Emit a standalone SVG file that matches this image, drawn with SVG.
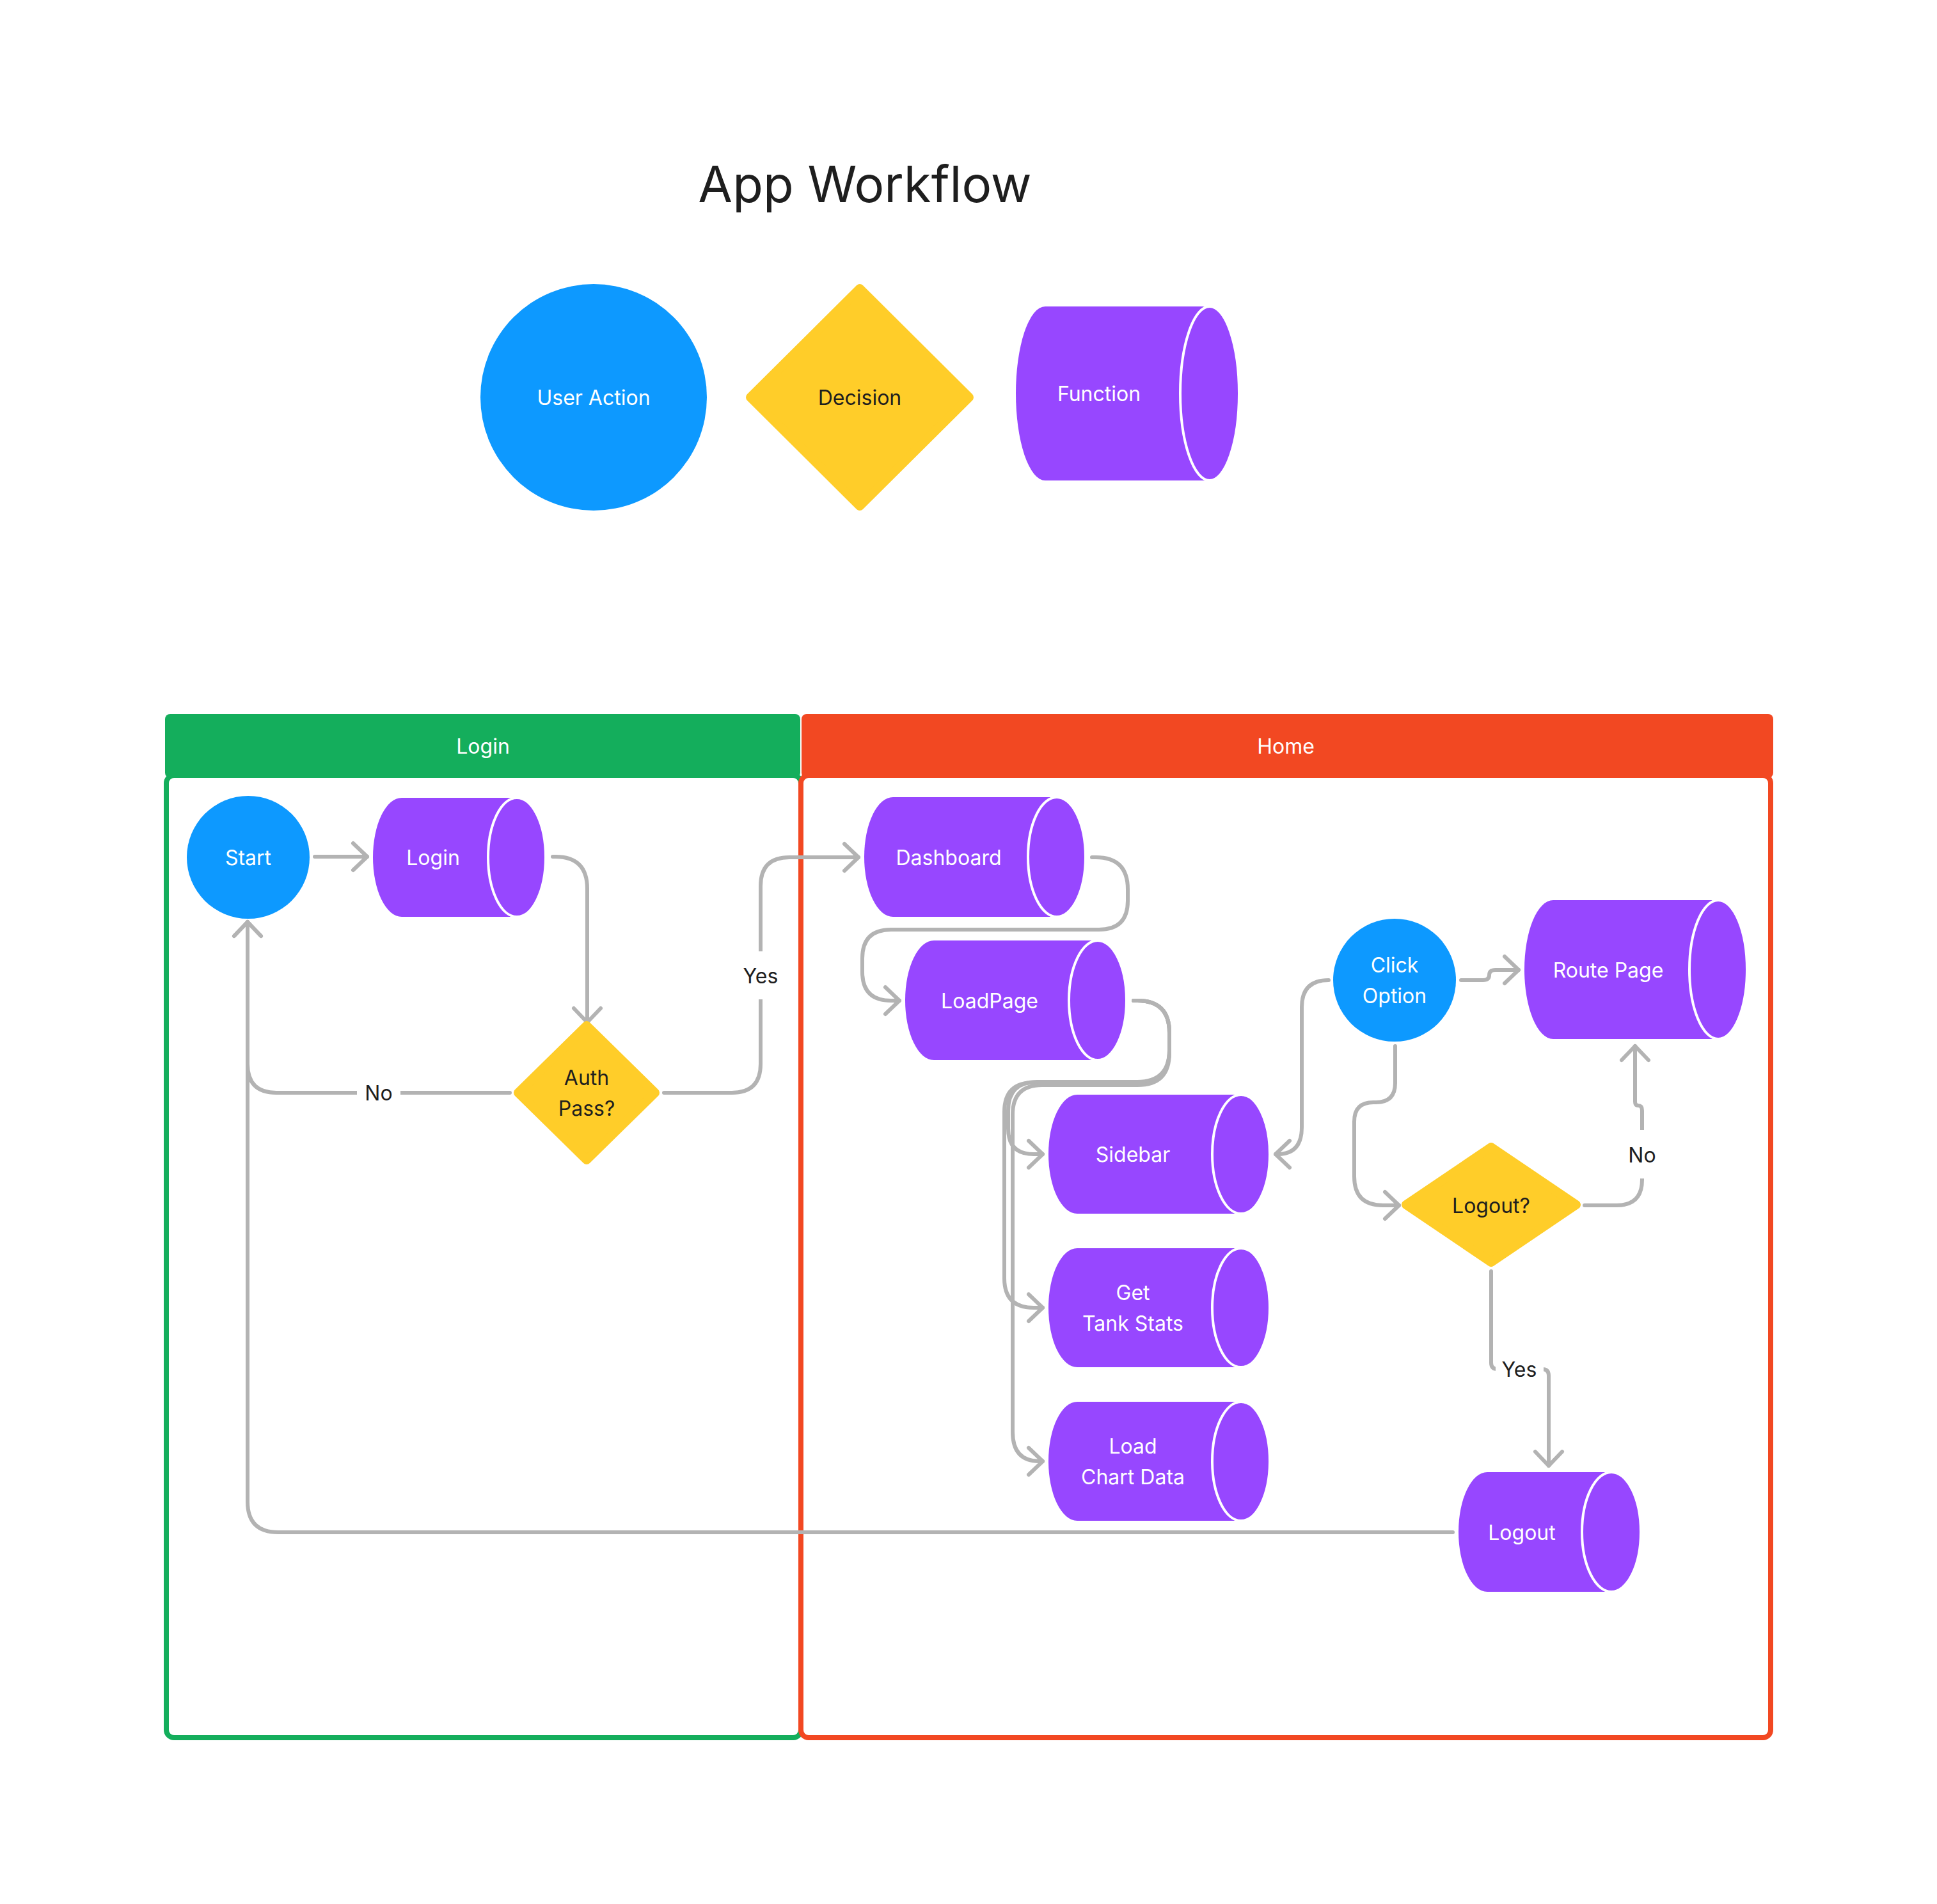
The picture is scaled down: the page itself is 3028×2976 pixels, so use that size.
<svg xmlns="http://www.w3.org/2000/svg" width="3028" height="2976" viewBox="0 0 3028 2976">
  <defs>
    <style>
      .t { font-family: Inter, "Noto Sans", "Liberation Sans", sans-serif; font-size: 32px; text-anchor: middle; dominant-baseline: central; }
      .w { fill: #ffffff; }
      .d { fill: #1e1e1e; }
      .title { font-family: Inter, "Noto Sans", "Liberation Sans", sans-serif; font-size: 78px; text-anchor: middle; fill: #1e1e1e; }
      .act { fill: #0d99ff; }
      .fn { fill: #9747ff; }
      .cap { fill: #9747ff; stroke: #ffffff; stroke-width: 4; }
      .dec { fill: #ffcd29; stroke: #ffcd29; stroke-width: 14; stroke-linejoin: round; }
      .conn { fill: none; stroke: #b3b3b3; stroke-width: 6; stroke-linecap: round; stroke-linejoin: round; }
      .lbl-bg { fill: #ffffff; }
    </style>
    <marker id="arrow" markerUnits="userSpaceOnUse" viewBox="0 0 40 50" markerWidth="40" markerHeight="50" refX="30" refY="25" orient="auto" overflow="visible">
      <path d="M8,4 L30,25 L8,46" fill="none" stroke="#b3b3b3" stroke-width="6" stroke-linecap="round" stroke-linejoin="round"/>
    </marker>
  </defs>

  <rect x="0" y="0" width="3028" height="2976" fill="#ffffff"/>

  <!-- Title -->
  <text class="title" x="1352" y="316">App Workflow</text>

  <!-- Legend -->
  <g id="legend-user-action">
    <circle class="act" cx="928" cy="621" r="177"/>
    <text class="t w" x="928" y="621">User Action</text>
  </g>
  <g id="legend-decision">
    <polygon class="dec" points="1344,451 1515,621 1344,791 1173,621"/>
    <text class="t d" x="1344" y="621">Decision</text>
  </g>
  <g id="legend-function">
    <path class="fn" d="M1634,479 H1891 V751 H1634 A46,136 0 0 1 1634,479 Z"/>
    <ellipse class="cap" cx="1891" cy="615" rx="46" ry="136"/>
    <text class="t w" x="1718" y="615">Function</text>
  </g>

  <!-- Swimlanes -->
  <g id="lane-login">
    <rect x="260" y="1212" width="992" height="1504" rx="12" fill="#ffffff" stroke="#14ae5c" stroke-width="8"/>
    <rect x="258" y="1116" width="993" height="100" rx="8" fill="#14ae5c"/>
    <text class="t w" x="755" y="1166">Login</text>
  </g>
  <g id="lane-home">
    <rect x="1252" y="1212" width="1516" height="1504" rx="12" fill="#ffffff" stroke="#f24822" stroke-width="8"/>
    <rect x="1253" y="1116" width="1519" height="100" rx="8" fill="#f24822"/>
    <text class="t w" x="2010" y="1166">Home</text>
  </g>

  <!-- Connectors -->
  <g id="connectors">
    <path class="conn" marker-end="url(#arrow)" d="M492,1339 H574"/>
    <path class="conn" marker-end="url(#arrow)" d="M864,1339 H868 Q918,1339 918,1389 V1598"/>
    <path class="conn" marker-end="url(#arrow)" d="M1038,1708 H1144 Q1189,1708 1189,1663 V1385 Q1189,1340 1234,1340 H1342"/>
    <path class="conn" marker-end="url(#arrow)" d="M797,1708 H432 Q387,1708 387,1663 V1441"/>
    <path class="conn" marker-end="url(#arrow)" d="M2271,2395 H435 Q387,2395 387,2347 V1441"/>
    <path class="conn" marker-end="url(#arrow)" d="M1707,1340 H1713 Q1763,1340 1763,1390 V1408 Q1763,1453 1718,1453 H1393 Q1348,1453 1348,1498 V1519 Q1348,1564 1393,1564 H1406"/>
    <path class="conn" marker-end="url(#arrow)" d="M1772,1564 H1778 Q1828,1564 1828,1614 V1641 Q1828,1691 1778,1691 H1621 Q1576,1691 1576,1736 V1764 Q1576,1804 1616,1804 H1630"/>
    <path class="conn" marker-end="url(#arrow)" d="M1772,1564 H1778 Q1828,1564 1828,1614 V1642 Q1828,1692 1778,1692 H1616 Q1570,1692 1570,1738 V1998 Q1570,2044 1616,2044 H1630"/>
    <path class="conn" marker-end="url(#arrow)" d="M1772,1564 H1778 Q1828,1564 1828,1614 V1646 Q1828,1696 1778,1696 H1629 Q1583,1696 1583,1742 V2238 Q1583,2284 1625,2284 H1630"/>
    <path class="conn" marker-end="url(#arrow)" d="M2077,1532 Q2035,1532 2035,1574 V1762 Q2035,1804 1997,1804 H1994"/>
    <path class="conn" marker-end="url(#arrow)" d="M2284,1532 H2318 Q2328,1532 2328,1524 Q2328,1516 2338,1516 H2374"/>
    <path class="conn" marker-end="url(#arrow)" d="M2181,1635 V1693 Q2181,1723 2151,1723 H2147 Q2117,1723 2117,1753 V1839 Q2117,1884 2162,1884 H2187"/>
    <path class="conn" marker-end="url(#arrow)" d="M2477,1884 H2527 Q2567,1884 2567,1844 V1736 Q2567,1728 2561,1728 Q2556,1728 2556,1722 V1635"/>
    <path class="conn" marker-end="url(#arrow)" d="M2331,1987 V2130 Q2331,2140 2341,2140 H2411 Q2421,2140 2421,2150 V2291"/>

    <!-- connector labels -->
    <rect class="lbl-bg" x="1160" y="1487" width="58" height="75"/>
    <text class="t d" x="1189" y="1525">Yes</text>
    <rect class="lbl-bg" x="558" y="1690" width="68" height="36"/>
    <text class="t d" x="592" y="1708">No</text>
    <rect class="lbl-bg" x="2540" y="1766" width="54" height="76"/>
    <text class="t d" x="2567" y="1805">No</text>
    <rect class="lbl-bg" x="2338" y="2118" width="75" height="44"/>
    <text class="t d" x="2375" y="2140">Yes</text>
  </g>

  <!-- Login lane nodes -->
  <g id="node-start">
    <circle class="act" cx="388" cy="1340" r="96"/>
    <text class="t w" x="388" y="1340">Start</text>
  </g>
  <g id="node-login">
    <path class="fn" d="M628,1247 H808 V1433 H628 A45,93 0 0 1 628,1247 Z"/>
    <ellipse class="cap" cx="808" cy="1340" rx="45" ry="93"/>
    <text class="t w" x="677" y="1340">Login</text>
  </g>
  <g id="node-auth">
    <polygon class="dec" points="917,1603 1024,1708 917,1813 810,1708"/>
    <text class="t d" x="917" y="1684">Auth</text>
    <text class="t d" x="917" y="1732">Pass?</text>
  </g>

  <!-- Home lane nodes -->
  <g id="node-dashboard">
    <path class="fn" d="M1396,1246 H1652 V1433 H1396 A45,93.5 0 0 1 1396,1246 Z"/>
    <ellipse class="cap" cx="1652" cy="1339.5" rx="45" ry="93.5"/>
    <text class="t w" x="1483" y="1340">Dashboard</text>
  </g>
  <g id="node-loadpage">
    <path class="fn" d="M1460,1470 H1716 V1657 H1460 A45,93.5 0 0 1 1460,1470 Z"/>
    <ellipse class="cap" cx="1716" cy="1563.5" rx="45" ry="93.5"/>
    <text class="t w" x="1547" y="1564">LoadPage</text>
  </g>
  <g id="node-sidebar">
    <path class="fn" d="M1684,1711 H1940 V1897 H1684 A45,93 0 0 1 1684,1711 Z"/>
    <ellipse class="cap" cx="1940" cy="1804" rx="45" ry="93"/>
    <text class="t w" x="1771" y="1804">Sidebar</text>
  </g>
  <g id="node-tank-stats">
    <path class="fn" d="M1684,1951 H1940 V2137 H1684 A45,93 0 0 1 1684,1951 Z"/>
    <ellipse class="cap" cx="1940" cy="2044" rx="45" ry="93"/>
    <text class="t w" x="1771" y="2020">Get</text>
    <text class="t w" x="1771" y="2068">Tank Stats</text>
  </g>
  <g id="node-chart-data">
    <path class="fn" d="M1684,2191 H1940 V2377 H1684 A45,93 0 0 1 1684,2191 Z"/>
    <ellipse class="cap" cx="1940" cy="2284" rx="45" ry="93"/>
    <text class="t w" x="1771" y="2260">Load</text>
    <text class="t w" x="1771" y="2308">Chart Data</text>
  </g>
  <g id="node-click-option">
    <circle class="act" cx="2180" cy="1532" r="96"/>
    <text class="t w" x="2180" y="1508">Click</text>
    <text class="t w" x="2180" y="1556">Option</text>
  </g>
  <g id="node-route-page">
    <path class="fn" d="M2428,1407 H2686 V1624 H2428 A45,108.5 0 0 1 2428,1407 Z"/>
    <ellipse class="cap" cx="2686" cy="1515.5" rx="45" ry="108.5"/>
    <text class="t w" x="2514" y="1516">Route Page</text>
  </g>
  <g id="node-logout-decision">
    <polygon class="dec" points="2331,1793 2464,1883 2331,1973 2198,1883"/>
    <text class="t d" x="2331" y="1884">Logout?</text>
  </g>
  <g id="node-logout">
    <path class="fn" d="M2325,2301 H2519 V2488 H2325 A45,93.5 0 0 1 2325,2301 Z"/>
    <ellipse class="cap" cx="2519" cy="2394.5" rx="46" ry="93.5"/>
    <text class="t w" x="2379" y="2395">Logout</text>
  </g>
</svg>
